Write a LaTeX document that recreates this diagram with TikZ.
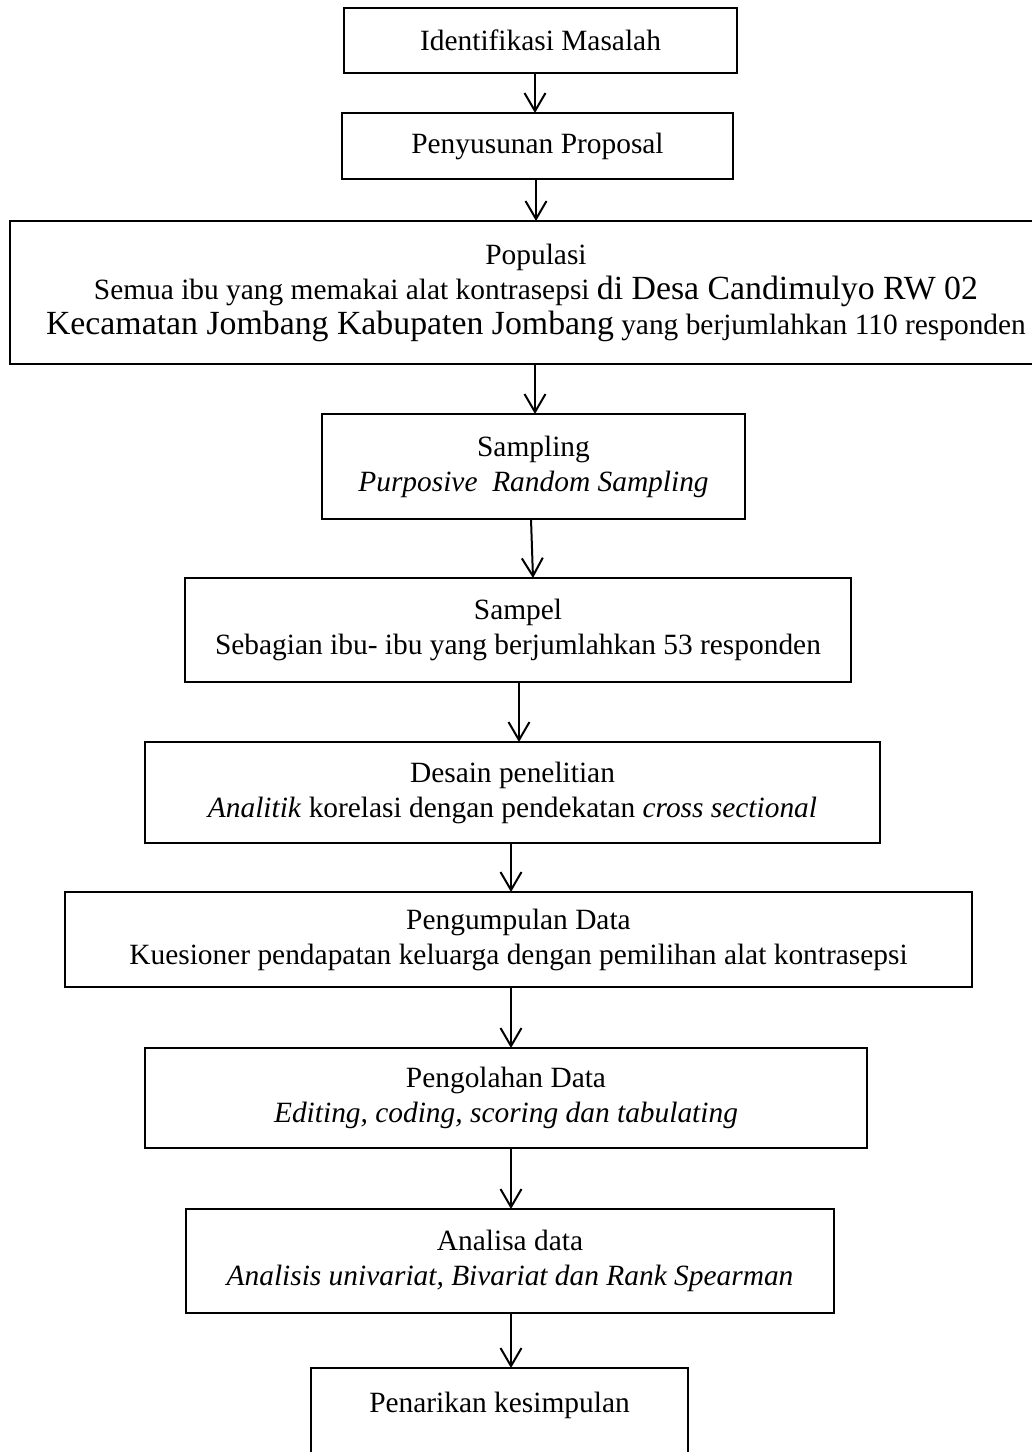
\documentclass[tikz,border=0pt]{standalone}
\usepackage{fontspec}
\setmainfont{Liberation Serif}
\usepackage{tikz}
\usetikzlibrary{arrows.meta, positioning}
\newcommand{\bigtxt}[1]{{\fontsize{16.9}{20}\selectfont #1}}
\tikzset{
  flowbox/.style={
    rectangle, draw=black, line width=1pt,
    align=center, inner sep=0pt, outer sep=0pt,
    font=\fontsize{14.7}{17.5}\selectfont},
  arr/.style={-{Straight Barb[length=9pt,width=10.5pt]}, line width=1pt},
}

\begin{document}
\begin{tikzpicture}[node distance=20pt]
  \useasboundingbox (0,0) rectangle (516pt,-726pt);
  \node[flowbox, minimum width=196.5pt, minimum height=32.5pt] (ident) at (270.25pt,-20.25pt) {Identifikasi Masalah};
  \node[flowbox, below=20pt of ident, xshift=-1.5pt, minimum width=195.5pt, minimum height=33pt] (proposal) {Penyusunan Proposal};
  \node[flowbox, below=21pt of proposal, xshift=-0.75pt, minimum width=526pt, minimum height=71.5pt] (populasi)
    {Populasi\\Semua ibu yang memakai alat kontrasepsi \bigtxt{di Desa Candimulyo RW 02}\\
     \bigtxt{Kecamatan Jombang Kabupaten Jombang} yang berjumlahkan 110 responden};
  \node[flowbox, below=25pt of populasi, xshift=-1.25pt, minimum width=211.5pt, minimum height=52.5pt] (sampling)
    {Sampling\\\textit{Purposive\ \ Random Sampling}};
  \node[flowbox, below=29.5pt of sampling, xshift=-7.75pt, minimum width=333pt, minimum height=52pt] (sampel)
    {Sampel\\Sebagian ibu- ibu yang berjumlahkan 53 responden};
  \node[flowbox, below=30pt of sampel, xshift=-2.75pt, minimum width=367.5pt, minimum height=50.5pt] (desain)
    {Desain penelitian\\\textit{Analitik} korelasi dengan pendekatan \textit{cross sectional}};
  \node[flowbox, below=24.5pt of desain, xshift=3pt, minimum width=453.5pt, minimum height=47.5pt] (kumpul)
    {Pengumpulan Data\\Kuesioner pendapatan keluarga dengan pemilihan alat kontrasepsi};
  \node[flowbox, below=30.5pt of kumpul, xshift=-6.25pt, minimum width=361pt, minimum height=50pt] (olah)
    {Pengolahan Data\\\textit{Editing, coding, scoring dan tabulating}};
  \node[flowbox, below=30.5pt of olah, xshift=2pt, minimum width=324pt, minimum height=52pt] (analisa)
    {Analisa data\\\textit{Analisis univariat, Bivariat dan Rank Spearman}};
  \node[flowbox, below=27.5pt of analisa, xshift=-5.25pt, minimum width=188.5pt, minimum height=52pt] (simpul)
    {Penarikan kesimpulan\\\mbox{}};
  \draw[arr] ([xshift=-2.75pt]ident.south) -- ([xshift=-1.25pt]proposal.north);
  \draw[arr] ([xshift=-0.75pt]proposal.south) -- (populasi.north);
  \draw[arr] ([xshift=-0.5pt]populasi.south) -- ([xshift=0.75pt]sampling.north);
  \draw[arr] ([xshift=-1.25pt]sampling.south) -- ([xshift=7.5pt]sampel.north);
  \draw[arr] ([xshift=0.5pt]sampel.south) -- ([xshift=3.25pt]desain.north);
  \draw[arr] ([xshift=-0.75pt]desain.south) -- ([xshift=-3.75pt]kumpul.north);
  \draw[arr] ([xshift=-3.75pt]kumpul.south) -- ([xshift=2.5pt]olah.north);
  \draw[arr] ([xshift=2.5pt]olah.south) -- ([xshift=0.5pt]analisa.north);
  \draw[arr] ([xshift=0.5pt]analisa.south) -- ([xshift=5.75pt]simpul.north);
\end{tikzpicture}
\end{document}
